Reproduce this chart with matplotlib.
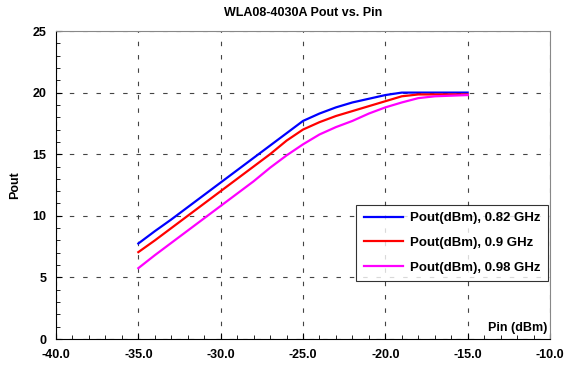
import numpy as np
import matplotlib
matplotlib.use('Agg')
import matplotlib.pyplot as plt
from matplotlib.ticker import MultipleLocator

plt.rcParams['font.family'] = ['Liberation Sans', 'DejaVu Sans']
plt.rcParams['font.weight'] = 'bold'

# Pin (dBm)
pin = [-35, -34, -33, -32, -31, -30, -29, -28, -27, -26, -25,
       -24, -23, -22, -21, -20, -19, -18, -17, -16, -15]

# Pout (dBm) per frequency
pout_082 = [7.75, 8.75, 9.7, 10.7, 11.7, 12.7, 13.7, 14.7, 15.7, 16.7, 17.7,
            18.3, 18.8, 19.2, 19.5, 19.8, 20.0, 20.0, 20.0, 20.0, 20.0]
pout_090 = [7.05, 8.0, 9.0, 10.0, 11.0, 12.0, 13.0, 14.0, 15.0, 16.1, 17.0,
            17.6, 18.1, 18.5, 18.9, 19.3, 19.7, 19.85, 19.85, 19.85, 19.85]
pout_098 = [5.75, 6.8, 7.8, 8.8, 9.8, 10.8, 11.8, 12.8, 13.9, 14.9, 15.8,
            16.6, 17.2, 17.7, 18.3, 18.8, 19.2, 19.55, 19.7, 19.75, 19.8]

series = [(pout_082, 'blue', 'Pout(dBm), 0.82 GHz'),
          (pout_090, 'red', 'Pout(dBm), 0.9 GHz'),
          (pout_098, 'magenta', 'Pout(dBm), 0.98 GHz')]

fig = plt.figure(figsize=(5.66, 3.68), dpi=100)
ax = fig.add_axes([56/566, 1 - 339/368, 494/566, 308/368])

for y, c, lab in series:
    ax.plot(pin, y, color=c, lw=1.6, label=lab)

ax.set_xlim(-40, -10)
ax.set_ylim(0, 25)
ax.xaxis.set_major_locator(MultipleLocator(5))
ax.xaxis.set_minor_locator(MultipleLocator(1))
ax.yaxis.set_major_locator(MultipleLocator(5))
ax.yaxis.set_minor_locator(MultipleLocator(1))
ax.xaxis.set_major_formatter(lambda v, p: f'{v:.1f}')
ax.tick_params(which='both', direction='in', labelsize=9, top=False, right=False)
ax.tick_params(which='major', length=4, pad=7)
ax.tick_params(which='minor', length=3)
for lbl in ax.get_xticklabels() + ax.get_yticklabels():
    lbl.set_fontweight('bold')

ax.grid(True, which='major', color='#444444', ls=(0, (4, 8)), lw=0.8)
ax.spines['top'].set_color('#888888')
ax.spines['right'].set_color('#888888')

ax.set_title('WLA08-4030A Pout vs. Pin', fontsize=9, fontweight='bold', pad=11)
ax.set_ylabel('Pout', fontsize=9, fontweight='bold', labelpad=8)
ax.text(0.995, 0.015, 'Pin (dBm)', transform=ax.transAxes, ha='right', va='bottom',
        fontsize=9, fontweight='bold')

leg = ax.legend(loc='lower right', bbox_to_anchor=(0.995, 0.188), borderaxespad=0,
                frameon=True, fancybox=False, handlelength=3.0, handletextpad=0.5,
                labelspacing=0.95, borderpad=0.55, prop={'weight': 'bold', 'size': 9.5})
leg.get_frame().set_edgecolor('black')
leg.get_frame().set_linewidth(0.8)

fig.savefig('out.png', dpi=100)
